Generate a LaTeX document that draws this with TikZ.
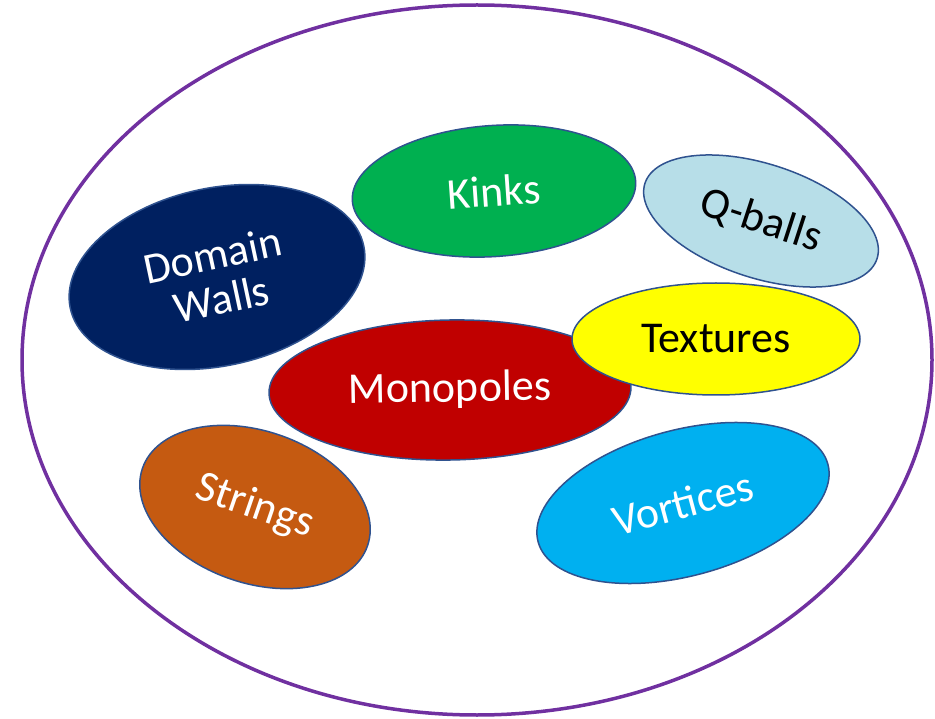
\documentclass[tikz,border=0pt]{standalone}
\usepackage{fontspec}
\setmainfont{Carlito}
\usetikzlibrary{shapes.geometric}

\definecolor{rim}{HTML}{7030A0}
\definecolor{edge}{HTML}{2F528F}
\definecolor{kinkgreen}{HTML}{00B050}
\definecolor{qblue}{HTML}{B7DEE8}
\definecolor{wallnavy}{HTML}{002060}
\definecolor{texyellow}{HTML}{FFFF00}
\definecolor{monored}{HTML}{C00000}
\definecolor{stringbrown}{HTML}{C55A11}
\definecolor{vortexblue}{HTML}{00B0F0}

\begin{document}
\begin{tikzpicture}[
  x=1pt, y=-1pt,
  font=\fontsize{44}{45}\selectfont,
  blob/.style={ellipse, draw=edge, line width=1.5pt, inner sep=0pt, align=center, text=white},
  darktext/.style={blob, text=black}
]
\useasboundingbox (0,0) rectangle (935,719);

% all the defects sit inside one big family
\draw[rim, line width=3.5pt] (477,360) ellipse [x radius=455, y radius=355];

\node[blob, fill=wallnavy, minimum width=300pt, minimum height=178pt, rotate=12] (walls) at (217,277) {Domain\\Walls};
\node[blob, fill=kinkgreen, minimum width=284pt, minimum height=131pt, rotate=4] (kinks) at (494,191) {Kinks};
\node[darktext, fill=qblue, minimum width=244pt, minimum height=114pt, rotate=-18] (qballs) at (761,221) {Q-balls};
\node[blob, fill=monored, minimum width=362pt, minimum height=140pt, rotate=1] (mono) at (450,390) {Monopoles};
% textures overlaps the monopoles
\node[darktext, fill=texyellow, minimum width=288pt, minimum height=112pt] (tex) at (716,339) {Textures};
\node[blob, fill=stringbrown, minimum width=238pt, minimum height=152pt, rotate=-19] (strings) at (255,507) {Strings};
\node[blob, fill=vortexblue, minimum width=300pt, minimum height=146pt, rotate=15] (vort) at (683,503) {Vortices};
\end{tikzpicture}
\end{document}
